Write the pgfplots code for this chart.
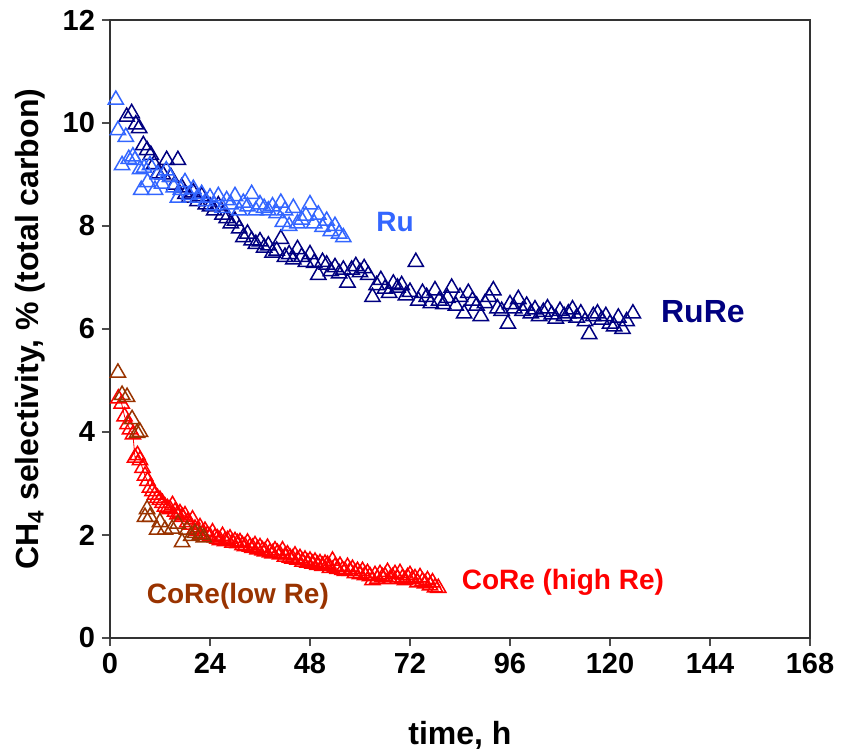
\documentclass[border=0pt]{standalone}
\usepackage{pgfplots}
\pgfplotsset{compat=1.18}
\usepackage{fontspec}
\setmainfont{Liberation Sans}
\definecolor{navyc}{HTML}{000080}
\definecolor{lblue}{HTML}{3366FF}
\definecolor{brownc}{HTML}{993300}
\definecolor{redc}{HTML}{FF0000}
\begin{document}
\begin{tikzpicture}
\useasboundingbox (-55pt,-56pt) rectangle (366.5pt,319pt);
\begin{axis}[
  at={(0,0)}, anchor=south west,
  scale only axis, width=350pt, height=309pt,
  xmin=0, xmax=168, ymin=0, ymax=12,
  xtick={0,24,...,168}, ytick={0,2,...,12},
  tick align=outside, tick pos=left,
  major tick length=4pt,
  axis line style={line width=0.8pt, black!80},
  tick style={line width=0.8pt, black!70},
  /pgf/number format/assume math mode=true,
  ticklabel style={font=\bfseries\fontsize{14.5}{16}\selectfont},
  xlabel={\bfseries time, h},
  ylabel={\bfseries CH\textsubscript{4} selectivity, \% (total carbon)},
  label style={font=\bfseries\fontsize{16}{18}\selectfont},
  xlabel style={at={(axis description cs:0.5,-0.157)}, anchor=center},
  ylabel style={at={(axis description cs:-0.114,0.5)}, anchor=center},
  clip=false,
  every axis plot/.append style={mark=triangle, mark size=4.4pt},
]
% RuRe
\addplot[only marks, mark options={draw=navyc, line width=0.75pt, fill=none}] coordinates {
(4.0,10.12) (5.2,10.19) (6.2,9.97) (7.0,9.90) (8.0,9.57) (8.9,9.47) (9.8,9.38) (10.6,9.20) (11.5,9.02) (12.7,9.00) (13.6,9.28) (14.6,8.95) (15.5,8.80) (16.3,9.28) (17.2,8.75) (18.1,8.62) (19.0,8.55) (20.0,8.65) (21.0,8.48) (22.0,8.58) (23.0,8.42) (24.0,8.38) (25.0,8.30) (26.0,8.40) (27.0,8.22) (28.0,8.15) (29.0,8.05) (30.0,8.10) (31.0,7.95) (32.0,7.78) (33.0,7.85) (34.0,7.72) (35.0,7.65) (36.0,7.70) (37.0,7.58) (38.0,7.62) (39.0,7.48) (40.0,7.52) (41.0,7.75) (42.0,7.40) (43.0,7.45) (44.0,7.35) (45.0,7.55) (46.0,7.40) (47.0,7.30) (48.0,7.45) (49.0,7.28) (50.0,7.05) (51.0,7.30) (52.0,7.25) (53.0,7.12) (54.0,7.20) (55.0,7.08) (56.0,7.15) (57.0,6.90) (58.0,7.15) (59.0,7.22) (60.0,7.10) (61.0,7.18) (62.0,7.05) (63.0,6.62) (64.0,6.85) (65.0,6.95) (66.0,6.78) (67.0,6.70) (68.0,6.88) (69.0,6.80) (70.0,6.85) (71.0,6.65) (72.0,6.72) (73.4,7.30) (74.0,6.55) (75.0,6.70) (76.0,6.62) (77.0,6.50) (78.0,6.75) (79.0,6.55) (80.0,6.48) (81.0,6.60) (82.0,6.80) (83.0,6.45) (84.0,6.62) (85.0,6.30) (86.0,6.70) (87.0,6.55) (88.0,6.45) (89.0,6.25) (90.0,6.50) (91.0,6.62) (92.0,6.75) (93.0,6.40) (94.0,6.35) (95.5,6.10) (96.0,6.48) (97.0,6.40) (98.0,6.58) (99.0,6.35) (100.0,6.45) (101.0,6.30) (102.0,6.38) (103.0,6.25) (104.0,6.33) (105.0,6.40) (106.0,6.28) (107.0,6.20) (108.0,6.35) (109.0,6.25) (110.0,6.30) (111.0,6.38) (112.0,6.22) (113.0,6.30) (114.0,6.15) (115.0,5.90) (116.0,6.25) (117.0,6.30) (118.0,6.18) (119.0,6.25) (120.0,6.10) (121.0,6.05) (122.0,6.22) (123.0,6.00) (124.0,6.15) (125.5,6.30)
};
% Ru
\addplot[only marks, mark options={draw=lblue, line width=0.75pt, fill=none}] coordinates {
(1.4,10.45) (1.9,9.86) (2.9,9.18) (3.8,9.73) (4.5,9.30) (5.5,9.35) (6.0,9.28) (7.2,9.10) (7.5,8.70) (8.2,9.13) (9.0,8.85) (9.6,9.18) (10.8,8.70) (11.5,9.00) (12.5,8.82) (13.5,9.08) (14.4,8.95) (15.3,8.75) (16.3,8.55) (17.0,8.70) (18.0,8.85) (19.0,8.60) (20.0,8.72) (21.0,8.55) (22.0,8.62) (23.0,8.48) (24.0,8.55) (25.0,8.40) (26.0,8.58) (27.0,8.35) (28.0,8.50) (29.0,8.42) (30.0,8.58) (31.0,8.30) (32.0,8.45) (33.0,8.38) (34.0,8.62) (35.0,8.30) (36.0,8.42) (37.0,8.35) (38.0,8.30) (39.0,8.38) (40.0,8.25) (41.0,8.45) (41.5,8.08) (42.0,8.30) (43.0,8.00) (44.0,8.35) (45.0,8.05) (46.0,8.12) (47.0,8.20) (48.0,8.42) (49.0,8.05) (50.0,8.22) (51.0,7.98) (52.0,8.10) (53.0,7.90) (54.0,8.00) (55.0,7.85) (56.0,7.78)
};
% CoRe (high Re)
\addplot[redc, line width=0.4pt, mark options={draw=redc, line width=0.75pt, fill=none, solid}] coordinates {
(2.0,4.65) (2.8,4.55) (3.5,4.30) (4.2,4.15) (4.8,4.05) (5.5,3.95) (6.0,3.50) (6.6,3.55) (7.2,3.45) (7.8,3.30) (8.4,3.15) (9.0,3.05) (9.6,2.92) (10.2,2.85) (10.8,2.78) (11.4,2.72) (12.0,2.68) (12.6,2.62) (13.2,2.55) (13.8,2.52) (14.4,2.50) (15.0,2.58) (15.6,2.45) (16.2,2.40) (16.8,2.42) (17.4,2.35) (18.0,2.38) (18.6,2.25) (19.2,2.20) (19.8,2.30) (20.4,2.12) (21.0,2.08) (21.6,2.15) (22.2,2.02) (22.8,2.08) (23.4,2.00)
(24.0,1.97) (24.6,2.05) (25.2,1.95) (25.8,1.93) (26.4,1.90) (27.0,1.98) (27.6,1.88) (28.2,1.90) (28.8,1.93) (29.4,1.85) (30.0,1.88) (30.6,1.84) (31.2,1.86) (31.8,1.80) (32.4,1.78) (33.0,1.85) (33.6,1.77) (34.2,1.75) (34.8,1.80) (35.4,1.72) (36.0,1.76) (36.6,1.70) (37.2,1.68) (37.8,1.75) (38.4,1.66) (39.0,1.64) (39.6,1.70) (40.2,1.65) (40.8,1.62) (41.4,1.70) (42.0,1.58) (42.6,1.62) (43.2,1.56) (43.8,1.54) (44.4,1.60) (45.0,1.52) (45.6,1.55) (46.2,1.48) (46.8,1.52) (47.4,1.46) (48.0,1.50) (48.6,1.44) (49.2,1.48) (49.8,1.42) (50.4,1.45) (51.0,1.40) (51.6,1.44) (52.2,1.42) (52.8,1.36) (53.4,1.50) (54.0,1.38) (54.6,1.34) (55.2,1.40) (55.8,1.32) (56.4,1.30) (57.0,1.38) (57.6,1.30) (58.2,1.34) (58.8,1.26) (59.4,1.30) (60.0,1.24) (60.6,1.30) (61.2,1.22) (61.8,1.26) (62.4,1.20) (63.0,1.12) (63.6,1.22) (64.2,1.15) (64.8,1.24) (65.4,1.18) (66.0,1.20) (66.6,1.28) (67.2,1.14) (67.8,1.18) (68.4,1.24) (69.0,1.15) (69.6,1.26) (70.2,1.16) (70.8,1.12) (71.4,1.18) (72.0,1.22) (72.6,1.14) (73.2,1.16) (73.8,1.08) (74.4,1.18) (75.0,1.10) (75.6,1.06) (76.2,1.12) (76.8,1.02) (77.4,1.08) (78.0,0.98) (78.8,0.97)
};
% CoRe (low Re)
\addplot[only marks, mark options={draw=brownc, line width=0.75pt, fill=none}] coordinates {
(1.9,5.15) (2.9,4.72) (4.1,4.68) (5.3,4.25) (6.5,3.98) (7.2,4.00) (8.4,2.35) (8.9,2.50) (9.6,2.35) (11.3,2.10) (12.0,2.25) (13.2,2.10) (14.9,2.12) (16.3,2.22) (17.3,1.86) (18.5,2.10) (19.5,1.98) (20.4,2.04) (21.6,2.00) (22.5,1.95)
};
\node[font=\bfseries\fontsize{14}{16}\selectfont, text=lblue] at (axis cs:68.4,8.08) {Ru};
\node[font=\bfseries\fontsize{16}{18}\selectfont, text=navyc] at (axis cs:142.3,6.33) {RuRe};
\node[font=\bfseries\fontsize{14}{16}\selectfont, text=brownc] at (axis cs:30.7,0.82) {CoRe(low Re)};
\node[font=\bfseries\fontsize{14}{16}\selectfont, text=redc] at (axis cs:108.7,1.09) {CoRe (high Re)};
\end{axis}
\end{tikzpicture}
\end{document}
